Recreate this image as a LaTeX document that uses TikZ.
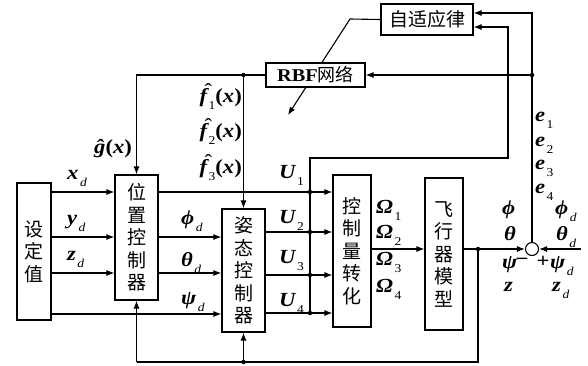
\documentclass[tikz,border=0pt]{standalone}
\usepackage{fontspec}
\setmainfont[FakeStretch=1.13]{Liberation Serif}
\newfontfamily\cjk{Noto Sans CJK SC}
\usetikzlibrary{arrows.meta,calc}
\newcommand\bv[1]{{\bfseries\itshape #1}}
\newcommand\sbx[1]{\hspace{1.5pt}\raisebox{-7pt}{\fontsize{12}{12}\selectfont #1}}
\newcommand\sd{\sbx{\textit{d}}}
\newcommand\hatover[3]{\leavevmode\rlap{\hspace{#2}\raisebox{#3}{\symbol{"02C6}}}#1}
\newcommand\fhat[1]{\hatover{\bv{f}}{5pt}{5pt}\sbx{#1}{\bfseries(\bv{x})}}
\tikzset{
  blk/.style={draw,line width=1.1pt,fill=white,inner sep=0pt,align=center,font=\cjk\fontsize{19}{22.5}\selectfont},
  ln/.style={line width=1.1pt},
  arr/.style={line width=1.1pt,-{Latex[length=8pt,width=6pt]}},
  dot/.style={circle,fill=black,inner sep=0pt,minimum size=4.5pt},
  lab/.style={inner sep=0pt,anchor=base west,font=\fontsize{20}{22}\selectfont}
}
\begin{document}
\begin{tikzpicture}[x=1pt,y=-1pt]
\useasboundingbox (0,0) rectangle (588,365);
% blocks
\node[blk,minimum width=34pt,minimum height=137pt] (set) at (34,251.5) {设\\定\\值};
\node[blk,minimum width=43pt,minimum height=125pt] (pos) at (136.5,237.5) {位\\置\\控\\制\\器};
\node[blk,minimum width=43pt,minimum height=123pt] (att) at (243.5,270.5) {姿\\态\\控\\制\\器};
\node[blk,minimum width=38pt,minimum height=152pt] (conv) at (352,251) {控\\制\\量\\转\\化};
\node[blk,minimum width=38pt,minimum height=152pt] (plant) at (444,254) {飞\\行\\器\\模\\型};
\node[blk,minimum width=92pt,minimum height=31pt] (adapt) at (427,19.5) {自适应律};
\coordinate (dk) at (350,19);
\coordinate (dt) at (288,115);
\draw[arr] (adapt.west) -- (dk) -- (dt);
\node[blk,minimum width=99pt,minimum height=24pt,font=\cjk\fontsize{18}{20}\selectfont] (rbf) at (315.5,75) {{\rmfamily\bfseries RBF}网络};
\node[draw,circle,line width=1.1pt,minimum size=13pt,inner sep=0pt] (sum) at (532,249) {};

% setpoints
\draw[arr] (set.east |- 0,192) -- (pos.west |- 0,192);
\draw[arr] (set.east |- 0,237) -- (pos.west |- 0,237);
\draw[arr] (set.east |- 0,273) -- (pos.west |- 0,273);
\draw[arr] (set.east |- 0,314) -- (att.west |- 0,314);
\draw[arr] (pos.east |- 0,237) -- (att.west |- 0,237);
\draw[arr] (pos.east |- 0,273) -- (att.west |- 0,273);

% U signals
\coordinate (j1) at (310,192);
\coordinate (j2) at (310,232);
\coordinate (j3) at (310,275);
\coordinate (j4) at (310,313);
\coordinate (jt) at (310,158);
\draw[arr] (pos.east |- j1) -- (conv.west |- j1);
\draw[arr] (att.east |- j2) -- (conv.west |- j2);
\draw[arr] (att.east |- j3) -- (conv.west |- j3);
\draw[arr] (att.east |- j4) -- (conv.west |- j4);
\coordinate (c1) at (508,158);
\coordinate (c2) at (508,27);
\draw[arr] (j4) -- (jt) -- (c1) -- (c2) -- (adapt.east |- c2);
\foreach \j in {j1,j2,j3,j4} \node[dot] at (\j) {};

% conv -> plant -> sum
\draw[arr] (conv.east |- 0,249) -- (plant.west |- 0,249);
\coordinate (jp) at (478,249);
\draw[arr] (plant.east |- jp) -- (sum.west);
\coordinate (jb) at (478,362);
\coordinate (ja) at (243.5,362);
\draw[ln] (jp) -- (jb) -- (pos.south |- jb);
\draw[arr] (pos.south |- jb) -- (pos.south);
\draw[arr] (ja) -- (att.south);
\node[dot] at (jp) {};
\node[dot] at (ja) {};
\coordinate (rin) at (581,249);
\draw[arr] (rin) -- (sum.east);

% error feedback
\coordinate (et) at (532,13);
\coordinate (je) at (532,75);
\draw[arr] (sum.north) -- (et) -- (adapt.east |- et);
\draw[arr] (je) -- (rbf.east);
\node[dot] at (je) {};

% RBF outputs
\coordinate (jr) at (243.5,75);
\draw[arr] (rbf.west) -- (pos.north |- jr) -- (pos.north);
\draw[arr] (jr) -- (att.north);
\node[dot] at (jr) {};

% labels
\node[lab] at (94,153) {\bv{ĝ}{\bfseries(\bv{x})}};
\node[lab,anchor=base east] at (242,102) {\fhat{1}};
\node[lab,anchor=base east] at (242,137) {\fhat{2}};
\node[lab,anchor=base east] at (242,173) {\fhat{3}};
\node[lab] at (67,179) {\bv{x}\sd};
\node[lab] at (67,224) {\bv{y}\sd};
\node[lab] at (67,260) {\bv{z}\sd};
\node[lab] at (181,224) {\bv{ϕ}\sd};
\node[lab] at (181,266) {\bv{θ}\sd};
\node[lab] at (181,304) {\bv{ψ}\sd};
\node[lab] at (279,178) {\bv{U}\sbx{1}};
\node[lab] at (279,223) {\bv{U}\sbx{2}};
\node[lab] at (279,263) {\bv{U}\sbx{3}};
\node[lab] at (279,306) {\bv{U}\sbx{4}};
\node[lab] at (376,213) {\bv{Ω}\sbx{1}};
\node[lab] at (376,238) {\bv{Ω}\sbx{2}};
\node[lab] at (376,265) {\bv{Ω}\sbx{3}};
\node[lab] at (376,292) {\bv{Ω}\sbx{4}};
\node[lab] at (502,214) {\bv{ϕ}};
\node[lab] at (504,240) {\bv{θ}};
\node[lab] at (502,268) {\bv{ψ}};
\node[lab] at (504,291) {\bv{z}};
\node[lab,anchor=center] at (522,262) {\bfseries −};
\node[lab,anchor=center] at (543,262) {\bfseries +};
\node[lab] at (550,268) {\bv{ψ}\sd};
\node[lab] at (555,214) {\bv{ϕ}\sd};
\node[lab] at (556,240) {\bv{θ}\sd};
\node[lab] at (552,291) {\bv{z}\sd};
\node[lab] at (535,121) {\bv{e}\sbx{1}};
\node[lab] at (535,146) {\bv{e}\sbx{2}};
\node[lab] at (535,169) {\bv{e}\sbx{3}};
\node[lab] at (535,193) {\bv{e}\sbx{4}};
\end{tikzpicture}
\end{document}
